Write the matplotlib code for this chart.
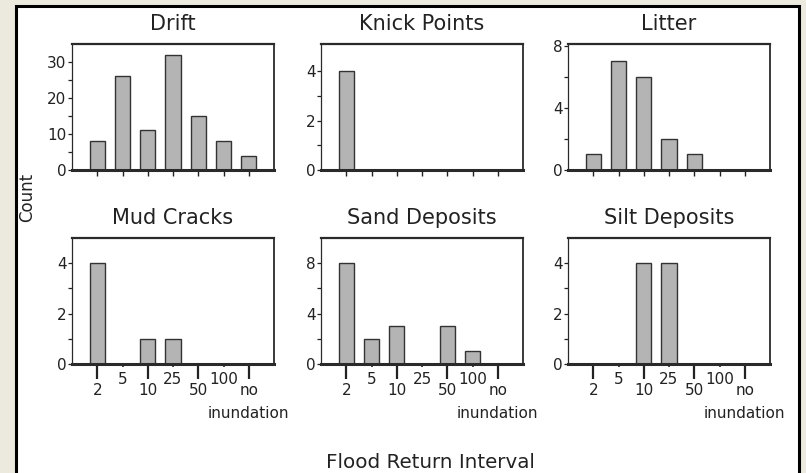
import matplotlib.pyplot as plt
from matplotlib.patches import Rectangle
from matplotlib.ticker import FixedLocator

# flood return interval classes (years)
intervals = ['2', '5', '10', '25', '50', '100', 'no inundation']

titles = ['Drift', 'Knick Points', 'Litter',
          'Mud Cracks', 'Sand Deposits', 'Silt Deposits']
drift = [8, 26, 11, 32, 15, 8, 4]
knick_points = [4, 0, 0, 0, 0, 0, 0]
litter = [1, 7, 6, 2, 1, 0, 0]
mud_cracks = [4, 0, 1, 1, 0, 0, 0]
sand_deposits = [8, 2, 3, 0, 3, 1, 0]
silt_deposits = [0, 0, 4, 4, 0, 0, 0]
counts = [drift, knick_points, litter, mud_cracks, sand_deposits, silt_deposits]

y_max = [35, 5.1, 8.1, 5, 10, 5]
y_major = [[0, 10, 20, 30], [0, 2, 4], [0, 4, 8], [0, 2, 4], [0, 4, 8], [0, 2, 4]]
y_minor = [[5, 15, 25], [1, 3], [2, 6], [1, 3], [2, 6], [1, 3]]

W, H = 806, 473
fig = plt.figure(figsize=(W / 100, H / 100), dpi=100)
fig.patch.set_facecolor('#ECEADF')

# white card with a black frame, kept behind the axes
fig.patches.append(Rectangle((16 / W, -0.05), 783 / W, 1 - 6 / H + 0.05,
                             transform=fig.transFigure, facecolor='white',
                             edgecolor='black', linewidth=2.2, zorder=-5))

lefts = [72, 321, 568]
bottoms = [170, 364]
aw, ah = 202, 126
ink = '#222222'

for i, (title, vals) in enumerate(zip(titles, counts)):
    row, col = divmod(i, 3)
    ax = fig.add_axes([lefts[col] / W, 1 - bottoms[row] / H, aw / W, ah / H])
    ax.patch.set_alpha(0)
    x = list(range(len(intervals)))
    ax.bar(x, vals, width=0.6, color='#B4B4B4', edgecolor='#333333', linewidth=1.0)
    ax.set_xlim(-1, 7)
    ax.set_ylim(0, y_max[i])

    ax.yaxis.set_major_locator(FixedLocator(y_major[i]))
    ax.yaxis.set_minor_locator(FixedLocator(y_minor[i]))
    ax.tick_params(axis='y', which='both', direction='out', length=3, width=0.9,
                   pad=1, labelsize=11, colors=ink)

    if row == 0:
        ax.set_xticks(x, [''] * len(x))
        ax.tick_params(axis='x', which='major', length=4, width=1.0, color=ink)
    else:
        # alternate long/short ticks so the labels stagger
        first_words = [s.split(' ')[0] for s in intervals]
        ax.set_xticks(x[0::2], first_words[0::2])
        ax.set_xticks(x[1::2], first_words[1::2], minor=True)
        ax.tick_params(axis='x', which='major', length=11, width=1.6,
                       pad=3, labelsize=11, colors=ink)
        ax.tick_params(axis='x', which='minor', length=2.5, width=1.2,
                       pad=3, labelsize=11, colors=ink)
        # second line of the last class goes underneath its tick label
        rest = intervals[-1].split(' ', 1)[1]
        ax.annotate(rest, xy=(x[-1], 0), xycoords=('data', 'axes fraction'),
                    xytext=(0, -39), textcoords='offset points',
                    ha='center', va='baseline', fontsize=11, color=ink,
                    annotation_clip=False)

    ax.spines['left'].set_linewidth(0.9)
    ax.spines['top'].set_linewidth(1.6)
    ax.spines['right'].set_linewidth(1.3)
    ax.spines['bottom'].set_linewidth(2.2)
    for s in ax.spines.values():
        s.set_color('#2a2a2a')

    ax.set_title(title, fontsize=15, pad=10, color=ink)

fig.text(27 / W, 1 - 197 / H, 'Count', rotation=90, fontsize=12,
         ha='center', va='center', color=ink)
fig.text(430 / W, 1 - 462 / H, 'Flood Return Interval', fontsize=14.3,
         ha='center', va='center', color=ink)

fig.savefig('out.png', dpi=100, facecolor=fig.get_facecolor())
